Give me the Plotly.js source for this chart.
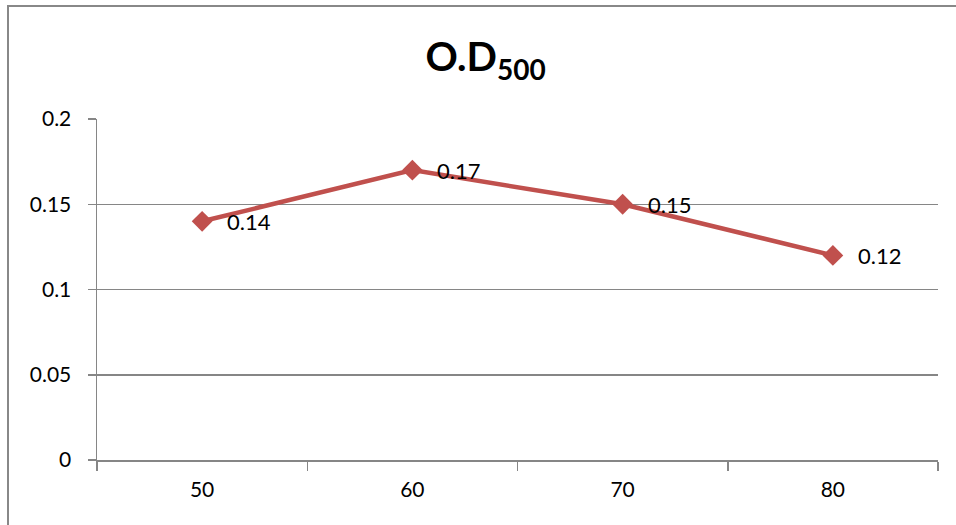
<!DOCTYPE html>
<html>
<head>
<meta charset="utf-8">
<script src="https://cdn.plot.ly/plotly-3.0.1.min.js"></script>
<style>
  html, body { margin: 0; padding: 0; background: #fff; }
  #wrap { position: relative; width: 956px; height: 525px; }
  #chart { width: 956px; height: 525px; }
  #frame { position: absolute; left: 7px; top: 5px; width: 960px; height: 540px;
           border-left: 2px solid #888; border-top: 2px solid #888; pointer-events: none; }
</style>
</head>
<body>
<div id="wrap">
  <div id="chart"></div>
  <div id="frame"></div>
</div>
<script>
const categories = ["50", "60", "70", "80"];
const odValues = [0.14, 0.17, 0.15, 0.12];
const labels = ["0.14", "0.17", "0.15", "0.12"];
const yTicks = [0, 0.05, 0.1, 0.15, 0.2];
const yTickText = ["0", "0.05", "0.1", "0.15", "0.2"];

const fontFam = "Lato, 'Open Sans', sans-serif";
const gray = "#868686";

const trace = {
  x: categories,
  y: odValues,
  type: "scatter",
  mode: "lines+markers",
  line: { color: "#C0504D", width: 4.5 },
  marker: { symbol: "diamond", size: 16, color: "#C0504D" },
  cliponaxis: false,
  hoverinfo: "skip"
};

const annotations = labels.map((t, i) => ({
  x: i, y: odValues[i], xref: "x", yref: "y",
  text: t, showarrow: false,
  xanchor: "left", yanchor: "middle",
  xshift: 23, yshift: 0,
  font: { family: fontFam, size: 22, color: "#000" }
}));

const layout = {
  width: 956, height: 525,
  margin: { l: 97, r: 18, t: 119, b: 65 },
  paper_bgcolor: "#fff", plot_bgcolor: "#fff",
  showlegend: false,
  annotations: annotations,
  title: {
    text: "<b>O.D<sub>500</sub></b>",
    font: { family: fontFam, size: 40, color: "#000" },
    x: 0.508, xanchor: "center",
    y: 0.891, yanchor: "middle", yref: "container"
  },
  xaxis: {
    type: "category",
    range: [-0.5, 3.5],
    tickson: "boundaries",
    ticks: "outside", ticklen: 9, tickcolor: gray, tickwidth: 1.5,
    showline: true, linecolor: gray, linewidth: 1.5,
    showgrid: false, zeroline: false,
    tickfont: { family: fontFam, size: 21, color: "#000" },
    ticklabelstandoff: 10,
    fixedrange: true
  },
  yaxis: {
    range: [0, 0.2],
    tickvals: yTicks, ticktext: yTickText,
    ticks: "outside", ticklen: 8, tickcolor: gray, tickwidth: 1.5,
    showline: true, linecolor: gray, linewidth: 1.5,
    showgrid: true, gridcolor: gray, gridwidth: 1.5,
    zeroline: false,
    tickfont: { family: fontFam, size: 21, color: "#000" },
    ticklabelstandoff: 12,
    fixedrange: true
  }
};

Plotly.newPlot("chart", [trace], layout, { displayModeBar: false, staticPlot: true });
</script>
</body>
</html>
